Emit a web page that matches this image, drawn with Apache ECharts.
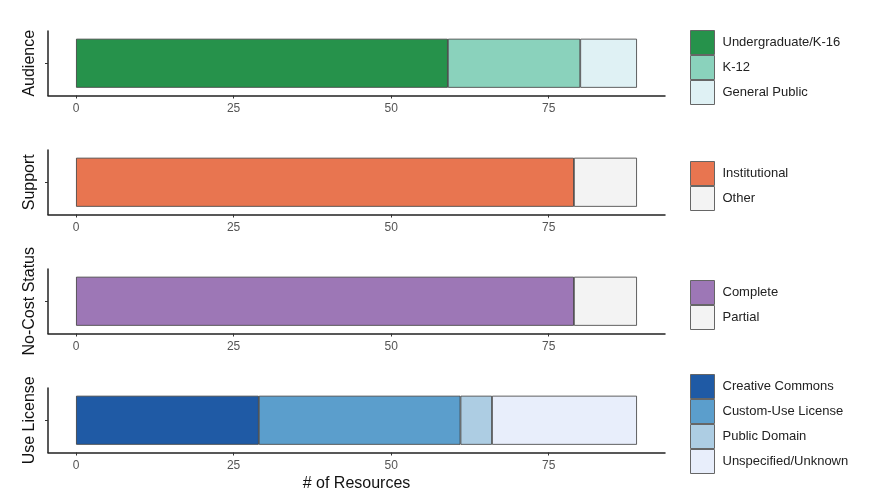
<!DOCTYPE html>
<html><head><meta charset="utf-8">
<script src="https://cdn.jsdelivr.net/npm/echarts@6/dist/echarts.min.js"></script>
<style>html,body{margin:0;padding:0;background:#fff}#c{width:878px;height:494px}</style>
</head><body><div id="c"></div>
<script>
// ---- data ----
const panelTitles = ['Audience', 'Support', 'No-Cost Status', 'Use License'];
const audienceCats = ['Undergraduate/K-16', 'K-12', 'General Public'];
const audienceVals = [59, 21, 9];
const supportCats = ['Institutional', 'Other'];
const supportVals = [79, 10];
const costCats = ['Complete', 'Partial'];
const costVals = [79, 10];
const licenseCats = ['Creative Commons', 'Custom-Use License', 'Public Domain', 'Unspecified/Unknown'];
const licenseVals = [29, 32, 5, 23];
const xTicks = [0, 25, 50, 75];
const xTitle = '# of Resources';

// ---- styling ----
const audienceColors = ['#26924b', '#8ad2bc', '#dff1f4'];
const supportColors = ['#e87550', '#f3f3f3'];
const costColors = ['#9d77b6', '#f3f3f3'];
const licenseColors = ['#1f5aa5', '#5b9ecc', '#adcde3', '#e8eefb'];

const panels = [
  {cats: audienceCats, vals: audienceVals, colors: audienceColors},
  {cats: supportCats, vals: supportVals, colors: supportColors},
  {cats: costCats, vals: costVals, colors: costColors},
  {cats: licenseCats, vals: licenseVals, colors: licenseColors}
];
const gridTops = [31, 150, 269, 388];
const legendTops = [30, 161, 280, 374];
const gridH = 64.5;

const total = Math.max(...panels.map(p => p.vals.reduce((a, b) => a + b, 0)));
const pad = total * 0.05;

const grid = [], xAxis = [], yAxis = [], series = [], legend = [];
panels.forEach((p, i) => {
  grid.push({left: 48, width: 617, top: gridTops[i], height: gridH, containLabel: false,
    outerBoundsMode: 'none'});
  xAxis.push({
    type: 'value', gridIndex: i, min: -pad, max: total + pad,
    name: i === 3 ? xTitle : '', nameLocation: 'middle', nameGap: 23,
    nameTextStyle: {fontSize: 16, color: '#111', fontFamily: 'Liberation Sans, Arial'},
    axisLine: {show: true, onZero: false, lineStyle: {color: '#222', width: 1.5}},
    axisTick: {show: true, length: 3, customValues: xTicks, lineStyle: {color: '#333'}},
    axisLabel: {show: true, customValues: xTicks, color: '#555', fontSize: 12, margin: 7,
      fontFamily: 'Liberation Sans, Arial'},
    splitLine: {show: false}
  });
  yAxis.push({
    type: 'category', gridIndex: i, data: [''],
    name: panelTitles[i], nameLocation: 'middle', nameGap: 10, nameRotate: 90,
    nameTextStyle: {fontSize: 16, color: '#111', fontFamily: 'Liberation Sans, Arial'},
    axisLine: {show: true, onZero: false, lineStyle: {color: '#222', width: 1.5}},
    axisTick: {show: true, length: 3, alignWithLabel: true, lineStyle: {color: '#333'}},
    axisLabel: {show: false},
    splitLine: {show: false}
  });
  p.cats.forEach((c, j) => {
    series.push({
      type: 'bar', name: c, xAxisIndex: i, yAxisIndex: i, stack: 's' + i,
      data: [p.vals[j]], barWidth: '76%',
      itemStyle: {color: p.colors[j], borderColor: '#3a3a3a', borderWidth: 0.8},
      emphasis: {disabled: true}, animation: false
    });
  });
  legend.push({
    data: p.cats, orient: 'vertical', left: 690, top: legendTops[i], padding: 0,
    itemWidth: 24, itemHeight: 24, itemGap: 0, icon: 'rect', selectedMode: false,
    itemStyle: {borderColor: '#666', borderWidth: 1},
    textStyle: {fontSize: 13, lineHeight: 14, color: '#222', padding: [0, 0, 0, 3],
      fontFamily: 'Liberation Sans, Arial'}
  });
});

const chart = echarts.init(document.getElementById('c'), null, {renderer: 'canvas'});
chart.setOption({backgroundColor: '#fff', animation: false, grid, xAxis, yAxis, series, legend});
</script></body></html>
